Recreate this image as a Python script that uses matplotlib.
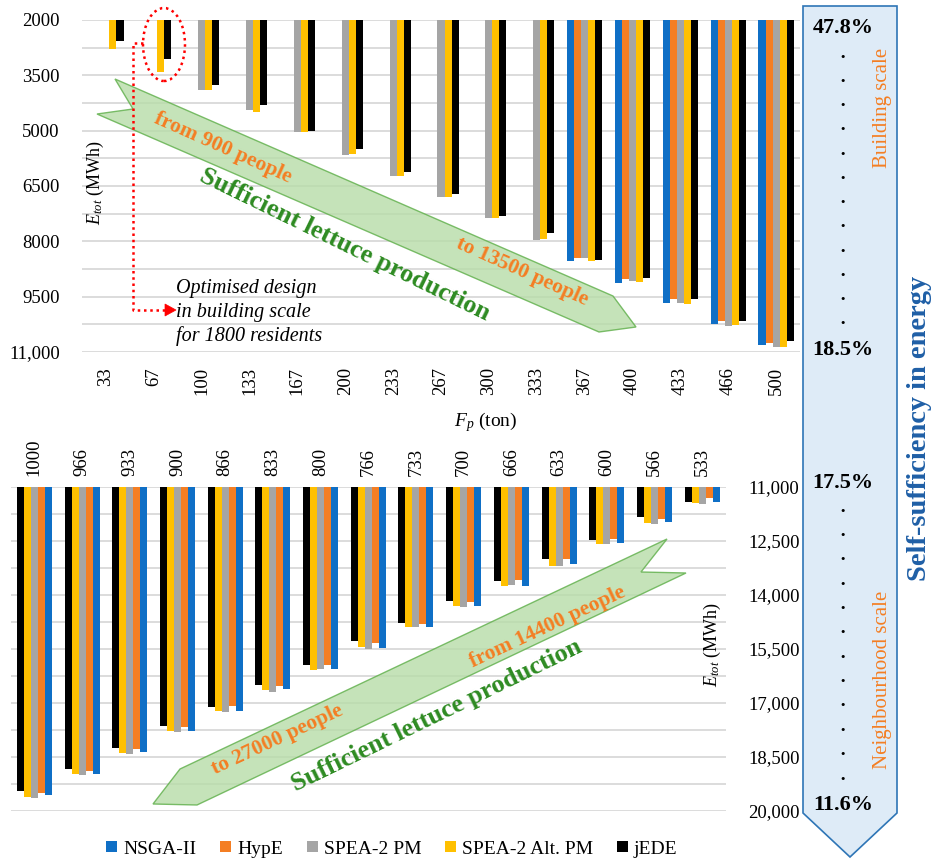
import numpy as np
import matplotlib
matplotlib.use("Agg")
import matplotlib.pyplot as plt
from matplotlib.patches import Polygon, Ellipse, Rectangle
from matplotlib.lines import Line2D

plt.rcParams['font.family'] = ['Liberation Serif', 'DejaVu Serif']
plt.rcParams['mathtext.fontset'] = 'custom'
plt.rcParams['mathtext.rm'] = 'Liberation Serif'
plt.rcParams['mathtext.it'] = 'Liberation Serif:italic'

nan = np.nan
series_names = ["NSGA-II", "HypE", "SPEA-2 PM", "SPEA-2 Alt. PM", "jEDE"]
series_colors = ["#0F6FC6", "#F47E23", "#A5A5A5", "#FFC000", "#000000"]

# ---------- building scale (top) ----------
cats_top = ["33", "67", "100", "133", "167", "200", "233", "267", "300", "333",
            "367", "400", "433", "466", "500"]
top_nsga = [nan]*10 + [8530, 9130, 9670, 10240, 10810]
top_hype = [nan]*10 + [8450, 9020, 9560, 10160, 10750]
top_spea_pm = [nan, nan, 3900, 4440, 5040, 5660, 6220, 6800, 7370, 7960,
               8450, 9070, 9670, 10290, 10860]
top_spea_alt = [2790, 3410, 3900, 4490, 5040, 5630, 6220, 6800, 7370, 7930,
                8530, 9100, 9700, 10270, 10860]
top_jede = [2570, 3060, 3760, 4300, 5000, 5500, 6110, 6720, 7310, 7770,
            8500, 8990, 9560, 10160, 10700]
top_ticks = [2000, 3500, 5000, 6500, 8000, 9500, 11000]
top_ticklabels = ["2000", "3500", "5000", "6500", "8000", "9500", "11,000"]

# ---------- neighbourhood scale (bottom), left to right ----------
cats_bot = ["1000", "966", "933", "900", "866", "833", "800", "766", "733",
            "700", "666", "633", "600", "566", "533"]
bot_jede = [19440, 18830, 18250, 17640, 17110, 16500, 15940, 15280, 14780,
            14170, 13610, 13000, 12470, 11830, 11420]
bot_spea_alt = [19610, 18970, 18390, 17780, 17220, 16640, 16080, 15440, 14890,
                14310, 13750, 13190, 12580, 12000, 11440]
bot_spea_pm = [19640, 19000, 18420, 17800, 17250, 16690, 16060, 15500, 14890,
               14330, 13720, 13190, 12580, 12030, 11470]
bot_hype = [19500, 18890, 18280, 17670, 17080, 16530, 15940, 15330, 14810,
            14190, 13580, 13000, 12440, 11890, 11310]
bot_nsga = [19560, 18970, 18360, 17780, 17220, 16610, 16050, 15470, 14890,
            14310, 13750, 13140, 12560, 11970, 11420]
bot_ticks = [11000, 12500, 14000, 15500, 17000, 18500, 20000]
bot_ticklabels = ["11,000", "12,500", "14,000", "15,500", "17,000", "18,500", "20,000"]

W, H = 942, 861
fig = plt.figure(figsize=(W/100, H/100), dpi=100)

def P(x, y):
    return (x / W, 1 - y / H)

def axes_px(l, t, r, b):
    return fig.add_axes([l / W, 1 - b / H, (r - l) / W, (b - t) / H])

GRID = "#D9D9D9"
FS = 13.5
bw = 0.147

def style_axes(ax, base, top_val, ticks):
    ax.set_ylim(top_val, base)
    for s in ax.spines.values():
        s.set_visible(False)
    ax.set_yticks(ticks)
    ax.set_yticks(np.arange(base, top_val + 1, 750), minor=True)
    ax.grid(axis='y', which='both', color=GRID, lw=1.3, zorder=0)
    ax.set_axisbelow(True)
    ax.tick_params(axis='both', which='both', length=0, labelsize=FS)

# top axes
ax1 = axes_px(82, 20, 800, 352)
top_series = [top_nsga, top_hype, top_spea_pm, top_spea_alt, top_jede]
x = np.arange(len(cats_top))
for k, vals in enumerate(top_series):
    v = np.array(vals, dtype=float)
    ax1.bar(x + (k - 2) * bw, v - 2000, bottom=2000, width=bw,
            color=series_colors[k], zorder=2, label=series_names[k])
ax1.set_xlim(-0.5, len(cats_top) - 0.5)
style_axes(ax1, 2000, 11000, top_ticks)
ax1.set_yticklabels(top_ticklabels)
ax1.tick_params(axis='y', pad=16)
ax1.set_xticks(x)
ax1.set_xticklabels(cats_top, rotation=90, va='top')
ax1.tick_params(axis='x', pad=11)

# bottom axes
ax2 = axes_px(10.5, 487, 726, 811)
bot_series = [bot_nsga, bot_hype, bot_spea_pm, bot_spea_alt, bot_jede]
xb = np.arange(len(cats_bot))
for k, vals in enumerate(bot_series):
    v = np.array(vals, dtype=float)
    ax2.bar(xb + (2 - k) * bw, v - 11000, bottom=11000, width=bw,
            color=series_colors[k], zorder=2)
ax2.set_xlim(-0.5, len(cats_bot) - 0.5)
style_axes(ax2, 11000, 20000, bot_ticks)
ax2.yaxis.tick_right()
ax2.set_yticklabels(bot_ticklabels)
ax2.tick_params(axis='y', pad=16)
ax2.xaxis.tick_top()
ax2.set_xticks(xb)
ax2.set_xticklabels(cats_bot, rotation=90, va='bottom')
ax2.tick_params(axis='x', pad=8)

# axis titles
fig.text(*P(95, 183), r"$E_{tot}$ (MWh)", rotation=90, ha='center', va='center', fontsize=13)
fig.text(*P(712, 645), r"$E_{tot}$ (MWh)", rotation=90, ha='center', va='center', fontsize=13)
fig.text(*P(486, 422), r"$F_p$ (ton)", ha='center', va='center', fontsize=14)

def poly(points, **kw):
    pts = [P(px, py) for px, py in points]
    p = Polygon(pts, closed=True, transform=fig.transFigure, **kw)
    fig.patches.append(p)
    return p

# green arrows
GFACE = "#B7DDA8"
GEDGE = "#5DAE48"
poly([(115, 79), (613, 296), (636, 327), (599, 332), (97, 114), (133, 109)],
     facecolor=GFACE, edgecolor=GEDGE, lw=1.0, alpha=0.8, zorder=5)
poly([(667, 539), (180, 769), (153, 804), (197, 805), (686, 573), (641, 572)],
     facecolor=GFACE, edgecolor=GEDGE, lw=1.0, alpha=0.8, zorder=5)

ORANGE = "#F47E23"
GREEN = "#2E8B22"
def rtext(x, y, s, ang, color, size, **kw):
    fig.text(*P(x, y), s, rotation=ang, rotation_mode='anchor', ha='center',
             va='center', color=color, fontsize=size, fontweight='bold', zorder=6, **kw)

rtext(223, 148, "from 900 people", -24, ORANGE, 15.5)
rtext(522, 272, "to 13500 people", -24, ORANGE, 15.5)
rtext(345, 245, "Sufficient lettuce production", -26, GREEN, 19)
rtext(548, 627, "from 14400 people", 25, ORANGE, 15.5)
rtext(277, 740, "to 27000 people", 25, ORANGE, 15.5)
rtext(437, 716, "Sufficient lettuce production", 26, GREEN, 19)

# red dotted annotation
RED = "#FF0000"
e = Ellipse(P(164, 44.5), 42 / W, 73 / H, transform=fig.transFigure, fill=False,
            edgecolor=RED, lw=1.8, ls=(0, (1, 1.5)), zorder=7)
fig.patches.append(e)
xs = [143, 133, 133, 168]
ys = [43, 43, 310, 310]
fig.lines.append(Line2D([v / W for v in xs], [1 - v / H for v in ys],
                        transform=fig.transFigure, color=RED, lw=1.8,
                        ls=(0, (1, 1.5)), zorder=7))
poly([(165, 304), (176, 310), (165, 316)], facecolor=RED, edgecolor=RED, lw=0.5, zorder=7)
for i, line in enumerate(["Optimised design", "in building scale", "for 1800 residents"]):
    fig.text(*P(176, 288 + 24 * i), line, ha='left', va='center', fontsize=14.5,
             style='italic', zorder=7)

# right panel arrow
poly([(803, 6), (897, 6), (897, 813), (850, 857), (803, 813)],
     facecolor="#DEEBF7", edgecolor="#2E75B6", lw=1.2, zorder=1)
for s, yy in [("47.8%", 28), ("18.5%", 350), ("17.5%", 483), ("11.6%", 805)]:
    fig.text(*P(843, yy), s, ha='center', va='center', fontsize=16, fontweight='bold')
for yy in np.linspace(58, 325, 12):
    fig.text(*P(843, yy), "·", ha='center', va='center', fontsize=14, fontweight='bold')
for yy in np.linspace(512, 780, 12):
    fig.text(*P(843, yy), "·", ha='center', va='center', fontsize=14, fontweight='bold')
fig.text(*P(883, 108), "Building scale", rotation=90, ha='center', va='center',
         fontsize=15, color=ORANGE)
fig.text(*P(883, 680), "Neighbourhood scale", rotation=90, ha='center', va='center',
         fontsize=15, color=ORANGE)
fig.text(*P(920, 428), "Self-sufficiency in energy", rotation=90, ha='center',
         va='center', fontsize=20.5, fontweight='bold', color="#1F5FA6")

# legend
handles = [Rectangle((0, 0), 1, 1, facecolor=c, edgecolor='none') for c in series_colors]
fig.legend(handles, series_names, loc='center', bbox_to_anchor=P(392, 849), ncol=5,
           frameon=False, fontsize=14, handlelength=0.55, handleheight=0.55,
           handletextpad=0.3, columnspacing=1.25, borderaxespad=0)

fig.savefig("out.png", dpi=100)
